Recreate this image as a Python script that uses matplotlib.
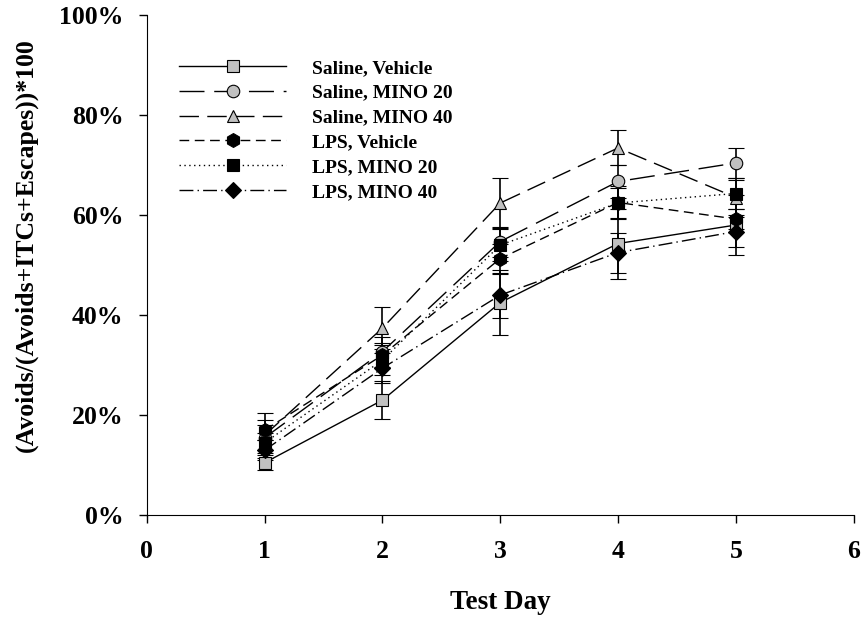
import matplotlib
matplotlib.use("Agg")
import matplotlib.pyplot as plt
from matplotlib.lines import Line2D
from matplotlib.ticker import FuncFormatter

days = [1, 2, 3, 4, 5]
groups = ["Saline, Vehicle", "Saline, MINO 20", "Saline, MINO 40",
          "LPS, Vehicle", "LPS, MINO 20", "LPS, MINO 40"]
saline_vehicle = [10.5, 23.0, 42.5, 54.3, 58.0]
saline_vehicle_err = [1.5, 3.8, 6.5, 7.0, 6.0]
saline_mino20 = [15.5, 32.7, 54.7, 66.7, 70.4]
saline_mino20_err = [2.5, 3.0, 3.0, 3.2, 3.0]
saline_mino40 = [16.0, 37.4, 62.4, 73.4, 63.5]
saline_mino40_err = [4.5, 4.2, 5.0, 3.5, 3.5]
lps_vehicle = [17.0, 32.0, 51.3, 62.5, 59.2]
lps_vehicle_err = [2.0, 2.5, 3.0, 3.2, 2.0]
lps_mino20 = [14.5, 31.0, 54.0, 62.4, 64.3]
lps_mino20_err = [2.0, 3.0, 3.2, 3.0, 3.0]
lps_mino40 = [13.0, 29.4, 44.0, 52.5, 56.7]
lps_mino40_err = [2.0, 3.0, 4.5, 4.0, 3.0]

values = [saline_vehicle, saline_mino20, saline_mino40, lps_vehicle, lps_mino20, lps_mino40]
errors = [saline_vehicle_err, saline_mino20_err, saline_mino40_err,
          lps_vehicle_err, lps_mino20_err, lps_mino40_err]

gray = "#c0c0c0"
styles = [
    dict(ls="-", marker="s", mfc=gray),
    dict(ls=(0, (18, 7)), marker="o", mfc=gray),
    dict(ls=(0, (14, 6)), marker="^", mfc=gray),
    dict(ls=(0, (7, 4)), marker="h", mfc="black"),
    dict(ls=(0, (1, 2.5)), marker="s", mfc="black"),
    dict(ls=(0, (10, 3, 1, 3)), marker="D", mfc="black"),
]
msizes = [8, 9, 9, 10, 8.5, 8]

plt.rcParams['font.family'] = ['Liberation Serif', 'DejaVu Serif']
plt.rcParams['font.weight'] = 'bold'

fig = plt.figure(figsize=(8.64, 6.2), dpi=100)
ax = fig.add_axes([0.170, 0.169, 0.818, 0.807])

handles = []
for name, v, e, st, ms in zip(groups, values, errors, styles, msizes):
    ax.errorbar(days, v, yerr=e, color="black", lw=1.0, ls=st["ls"],
                marker=st["marker"], mfc=st["mfc"], mec="black", mew=0.8,
                ms=ms, capsize=5.5, elinewidth=1.2, capthick=1.2)
    handles.append(Line2D([], [], color="black", lw=1.0, ls=st["ls"],
                          marker=st["marker"], mfc=st["mfc"], mec="black",
                          mew=0.8, ms=ms, label=name))

ax.set_xlim(0, 6)
ax.set_ylim(0, 100)
ax.set_xticks(range(0, 7))
ax.set_yticks(range(0, 101, 20))
ax.yaxis.set_major_formatter(FuncFormatter(lambda v, p: f"{int(v)}%"))
ax.spines['top'].set_visible(False)
ax.spines['right'].set_visible(False)
ax.tick_params(direction='out', length=6, width=1, labelsize=18.5)
ax.tick_params(axis='y', pad=11)
ax.tick_params(axis='x', pad=12)
for lab in ax.get_xticklabels() + ax.get_yticklabels():
    lab.set_fontweight('bold')
ax.set_xlabel("Test Day", fontsize=19.5, fontweight='bold', labelpad=19)
ax.set_ylabel("(Avoids/(Avoids+ITCs+Escapes))*100", fontsize=18.5, fontweight='bold')
ax.yaxis.set_label_coords(-0.154, 0.54)

leg = ax.legend(handles=handles, loc='upper left', bbox_to_anchor=(0.035, 0.927),
                frameon=False, handlelength=5.5, handletextpad=1.3,
                labelspacing=0.37, borderaxespad=0, prop={'size': 14, 'weight': 'bold'})

fig.savefig("out.png", dpi=100)
